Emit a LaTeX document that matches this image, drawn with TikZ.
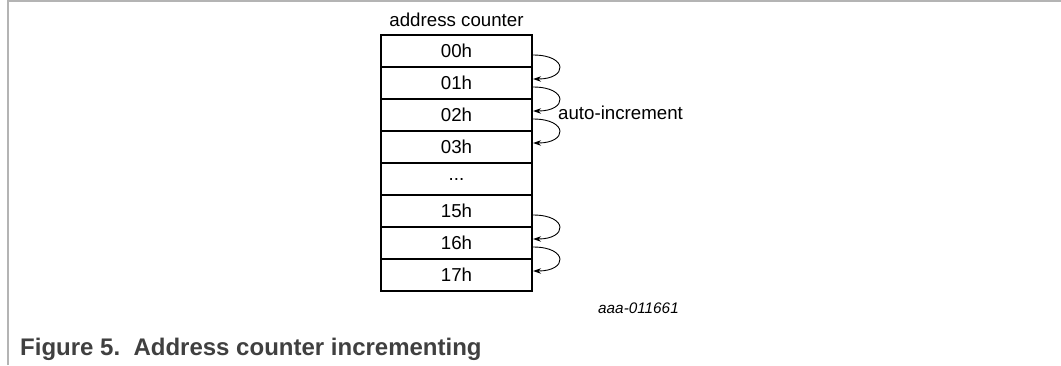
\documentclass[tikz,border=0pt]{standalone}
\usepackage{fontspec}
\setmainfont{Liberation Sans}
\usetikzlibrary{arrows.meta,calc}
\definecolor{framegray}{HTML}{B4B4B4}
\definecolor{capgray}{HTML}{404040}
\begin{document}
\begin{tikzpicture}[x=1pt,y=-1pt,
  cell/.style={draw,line width=2.2pt,minimum width=151pt,minimum height=32pt,inner sep=0pt,font=\fontsize{18.7}{20}\selectfont},
  incarrow/.style={-{Stealth[length=8pt,width=5.5pt]},line width=0.9pt},
  lbl/.style={inner sep=0pt,font=\fontsize{18.7}{20}\selectfont}]
\useasboundingbox (0,0) rectangle (1061,365);
\fill[white] (0,0) rectangle (1061,365);
\draw[framegray,line width=1.6pt] (8,365) -- (8,1) -- (1061,1);
\node[lbl] (title) at (456.5,20) {address counter};
\node[cell] (r0) at (456.5,51) {00h};
\node[cell] (r1) at (456.5,83) {01h};
\node[cell] (r2) at (456.5,115) {02h};
\node[cell] (r3) at (456.5,147) {03h};
\node[cell] (r4) at (456.5,179) {...};
\node[cell] (r5) at (456.5,211) {15h};
\node[cell] (r6) at (456.5,243) {16h};
\node[cell] (r7) at (456.5,275) {17h};
\draw[incarrow] ([yshift=-4pt]r0.east) .. controls +(35,0) and +(35,0) .. ([yshift=4pt]r1.east);
\draw[incarrow] ([yshift=-4pt]r1.east) .. controls +(35,0) and +(35,0) .. ([yshift=4pt]r2.east);
\draw[incarrow] ([yshift=-4pt]r2.east) .. controls +(35,0) and +(35,0) .. ([yshift=4pt]r3.east);
\draw[incarrow] ([yshift=-4pt]r5.east) .. controls +(35,0) and +(35,0) .. ([yshift=4pt]r6.east);
\draw[incarrow] ([yshift=-4pt]r6.east) .. controls +(35,0) and +(35,0) .. ([yshift=4pt]r7.east);
\node[lbl,anchor=west] (auto) at (558,113) {auto-increment};
\node[inner sep=0pt,font=\fontsize{15.3}{17}\selectfont\itshape] (code) at (638.5,308) {aaa-011661};
\node[inner sep=0pt,anchor=west,text=capgray,font=\fontsize{24}{26}\selectfont\bfseries] (cap) at (20,349) {Figure 5.\ \ Address counter incrementing};
\end{tikzpicture}
\end{document}
